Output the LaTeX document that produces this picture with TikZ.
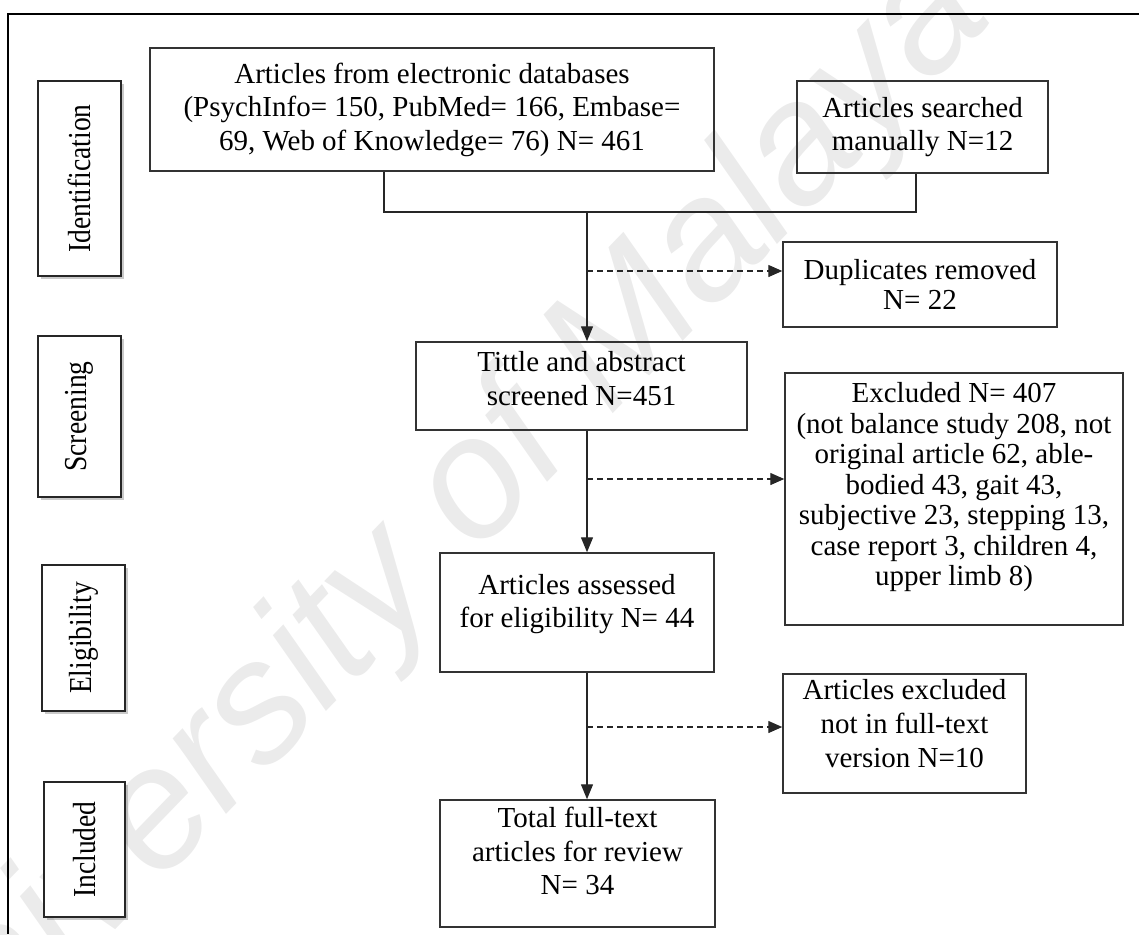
\documentclass[tikz,border=0pt]{standalone}
\usepackage{fontspec}
\setmainfont{Liberation Serif}
\newfontfamily\wmfont{Liberation Sans}
\usetikzlibrary{arrows.meta,shadows}

\begin{document}
\begin{tikzpicture}[x=1pt,y=-1pt,
  box/.style={draw=black!80, line width=1.5pt, rectangle, inner sep=0pt,
    align=center, font=\fontsize{29}{33.5}\selectfont},
  phase/.style={draw=black!85, line width=1.5pt, fill=white, inner sep=0pt,
    font=\fontsize{32}{36}\selectfont,
    drop shadow={shadow xshift=2.5pt, shadow yshift=-2.5pt, opacity=0.35, fill=black!60}},
  link/.style={line width=1.4pt, draw=black!85},
  flow/.style={link, -{Triangle[length=15pt,width=12pt]}},
  aside/.style={link, dash pattern=on 6pt off 4pt, -{Triangle[length=14pt,width=12pt]}},
]
\useasboundingbox (0,0) rectangle (1139,934);

% faint diagonal watermark
\node[rotate=46, font=\wmfont\itshape\fontsize{172}{172}\selectfont, text=black!8, inner sep=0pt]
  (wm) at (425,545) {University of Malaya};

% page frame (top and left edges)
\draw[line width=2.2pt] (1139,14) -- (8,14) -- (8,934);

% phase labels
\node[phase, minimum width=83pt, minimum height=195pt] (pid) at (79.5,178.5)
  {\rotatebox{90}{\scalebox{0.86}[1]{Identification}}};
\node[phase, minimum width=83pt, minimum height=161pt] (psc) at (79.5,416.5)
  {\rotatebox{90}{\scalebox{0.86}[1]{Screening}}};
\node[phase, minimum width=83pt, minimum height=146pt] (pel) at (83.5,638)
  {\rotatebox{90}{\scalebox{0.86}[1]{Eligibility}}};
\node[phase, minimum width=81pt, minimum height=135pt] (pin) at (84.5,849.5)
  {\rotatebox{90}{\scalebox{0.86}[1]{Included}}};

% flow boxes
\node[box, minimum width=564pt, minimum height=123pt] (db) at (432,109.5)
  {Articles from electronic databases\\(PsychInfo= 150, PubMed= 166, Embase=\\69, Web of Knowledge= 76) N= 461};
\node[box, minimum width=251pt, minimum height=92pt] (man) at (922.5,127)
  {Articles searched\\manually N=12};
\node[box, minimum width=274pt, minimum height=85pt, font=\fontsize{29}{30.5}\selectfont] (dup) at (920,284.5)
  {Duplicates removed\\N= 22};
\node[box, minimum width=331pt, minimum height=88pt] (scr) at (581.5,386)
  {Tittle and abstract\\screened N=451\\[-18pt]\mbox{}};
\node[box, minimum width=338pt, minimum height=252pt, font=\fontsize{29}{30.5}\selectfont] (exc) at (954,499)
  {Excluded N= 407\\(not balance study 208, not\\original article 62, able-\\bodied 43, gait 43,\\subjective 23, stepping 13,\\case report 3, children 4,\\upper limb 8)\\[-0.5pt]\mbox{}};
\node[box, minimum width=274pt, minimum height=119pt] (elg) at (577,612.5)
  {Articles assessed\\for eligibility N= 44\\[-10pt]\mbox{}};
\node[box, minimum width=243pt, minimum height=119pt, font=\fontsize{29}{34}\selectfont] (ftx) at (904.5,733.5)
  {Articles excluded\\not in full-text\\version N=10\\[-14pt]\mbox{}};
\node[box, minimum width=275pt, minimum height=127pt] (inc) at (577.5,863.5)
  {Total full-text\\articles for review\\N= 34\\[-9pt]\mbox{}};

% junction points of the connectors
\coordinate (jl) at (384,212);
\coordinate (jr) at (916,212);
\coordinate (jm) at (587,212);
\coordinate (t1) at (587,271);
\coordinate (t2) at (587,479);
\coordinate (t3) at (587,727);

% merge of the two sources
\draw[link] (db.south -| jl) -- (jl) -- (jr) -- (man.south -| jr);

% main spine
\draw[flow] (jm) -- (scr.north -| jm);
\draw[flow] (scr.south -| jm) -- (elg.north -| jm);
\draw[flow] (elg.south -| jm) -- (inc.north -| jm);

% removals
\draw[aside] (t1) -- (t1 -| dup.west);
\draw[aside] (t2) -- (t2 -| exc.west);
\draw[aside] (t3) -- (t3 -| ftx.west);
\end{tikzpicture}
\end{document}
